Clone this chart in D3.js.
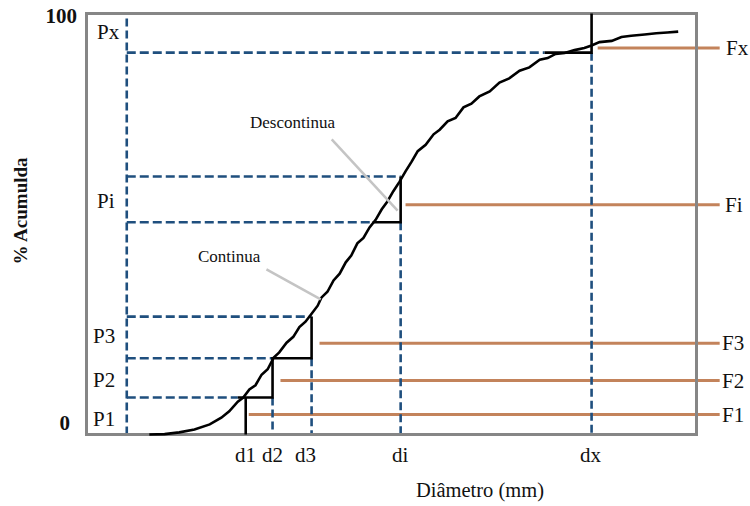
<!DOCTYPE html>
<html>
<head>
<meta charset="utf-8">
<script src="https://cdn.jsdelivr.net/npm/d3@7"></script>
<style>
  html, body { margin: 0; padding: 0; background: #fff; }
  svg { display: block; }
  text { font-family: "Liberation Serif", "Times New Roman", serif; fill: #111; }
</style>
</head>
<body>
<svg id="chart" width="750" height="506"></svg>
<script>
// Cumulative grain-size curve (diameter vs. cumulative %)
const curveDiam = [10.3, 12.8, 15.2, 17.7, 20.2, 22.1, 23.4, 24.8, 25.7, 26.7, 27.7, 28.7, 29.7, 30.7,
  31.6, 32.8, 33.9, 34.9, 35.9, 36.9, 37.9, 38.5, 39.5, 40.5, 41.5, 42.5, 43.4, 44.4, 45.4, 46.4,
  47.4, 48.4, 49.3, 50.3, 51.3, 52.3, 53.3, 54.3, 55.6, 56.9, 57.9, 59.2, 60.5, 61.8, 63.1, 64.4,
  66.1, 67.7, 69.3, 71.0, 72.6, 74.3, 75.6, 76.9, 78.4, 80.0, 81.6, 82.8, 84.1, 86.1, 87.7, 89.3,
  91.5, 93.4, 95.2, 97.0];
const curvePct = [0.0, 0.1, 0.5, 1.2, 2.4, 4.0, 5.5, 7.8, 8.8, 10.7, 11.7, 14.2, 15.5, 18.3,
  19.5, 21.8, 23.2, 25.5, 26.8, 28.7, 30.6, 32.5, 33.9, 36.6, 38.2, 40.9, 42.5, 45.4, 46.7, 49.2,
  51.0, 53.5, 55.3, 57.8, 60.0, 62.5, 64.8, 67.3, 68.8, 71.3, 72.4, 74.4, 75.2, 77.7, 78.6, 80.3,
  81.5, 83.6, 84.6, 86.4, 87.2, 89.0, 89.4, 90.4, 90.6, 91.3, 91.8, 92.4, 93.2, 93.5, 94.4, 94.7,
  95.0, 95.3, 95.5, 95.7];

// Class limits on the diameter axis and their cumulative percentages
const dLabels = ["d1", "d2", "d3", "di", "dx"];
const dValues = [26.1, 30.5, 36.9, 51.5, 82.8];
const pLabels = ["P1", "P2", "P3", "Pi", "Px"];
const pValues = [8.8, 18.1, 28.0, 61.3, 90.7];
const piLower = 50.4;
const refDiam = 6.6;

// Class frequencies
const fLabels = ["F1", "F2", "F3", "Fi", "Fx"];
const fValues = [4.75, 12.8, 21.7, 54.6, 91.8];
const fFrom = [26.6, 31.8, 38.2, 52.3, 83.8];
const fTo = 103.8;

// Where the curve meets each stair tread
const treadStart = [24.8, 46.9, 75.1];

// Annotation leaders: [diam, pct] pairs
const contLeader = [[29.5, 39.2], [38.4, 32.1]];
const descLeader = [[40.2, 70.1], [51.0, 53.2]];

const yTickLabels = ["0", "100"];

// ---- layout ----
const frame = { left: 86.5, right: 696.5, top: 13.5, bottom: 434.5 };
const svg = d3.select("#chart");
const x = d3.scaleLinear().domain([0, 100]).range([frame.left, frame.right]);
const y = d3.scaleLinear().domain([0, 100]).range([frame.bottom, frame.top]);

const blue = "#1f4f7e", orange = "#c3835b", gray = "#868686", leaderGray = "#c4c4c4";
const dash = "8,4";

const line = d3.line().x(d => x(d[0])).y(d => y(d[1]));
const seg = (pts, color, w, da) =>
  svg.append("path").attr("d", line(pts)).attr("fill", "none")
    .attr("stroke", color).attr("stroke-width", w)
    .attr("stroke-dasharray", da || null);

// frequency lines (orange)
fValues.forEach((v, i) => seg([[fFrom[i], v], [fTo, v]], orange, 3));

// vertical reference line
seg([[refDiam, 0], [refDiam, 100]], blue, 2.6, dash);

// horizontal dashed guides
const hGuides = [
  [pValues[0], treadStart[0]],
  [pValues[1], dValues[1]],
  [pValues[2], dValues[2]],
  [piLower, treadStart[1]],
  [pValues[3], dValues[3]],
  [pValues[4], treadStart[2]]
];
hGuides.forEach(([p, xe]) => seg([[refDiam, p], [xe, p]], blue, 2.6, "9,4"));

// vertical dashed guides
const vGuides = [[dValues[1], pValues[0]], [dValues[2], pValues[1]], [dValues[3], piLower], [dValues[4], pValues[4]]];
vGuides.forEach(([d, p]) => seg([[d, p], [d, 0]], blue, 2.6, dash));

// frame
svg.append("rect")
  .attr("x", frame.left).attr("y", frame.top)
  .attr("width", frame.right - frame.left).attr("height", frame.bottom - frame.top)
  .attr("fill", "none").attr("stroke", gray).attr("stroke-width", 3);

// stair steps (discontinuous curve)
seg([[dValues[0], 0], [dValues[0], pValues[0]]], "#000", 2.6);
seg([[treadStart[0], pValues[0]], [dValues[1], pValues[0]], [dValues[1], pValues[1]],
     [dValues[2], pValues[1]], [dValues[2], pValues[2]]], "#000", 2.6);
seg([[treadStart[1], piLower], [dValues[3], piLower], [dValues[3], pValues[3]]], "#000", 2.6);
seg([[treadStart[2], pValues[4]], [dValues[4], pValues[4]], [dValues[4], 100]], "#000", 2.6);

// continuous curve
const curve = curveDiam.map((d, i) => [d, curvePct[i]]);
seg(curve, "#000", 2.6);

// annotation leaders
seg(contLeader, leaderGray, 2.5);
seg(descLeader, leaderGray, 2.5);

svg.append("text").attr("x", 198).attr("y", 262).attr("font-size", 17).text("Continua");
svg.append("text").attr("x", 250).attr("y", 128).attr("font-size", 17).text("Descontinua");

// y extremes
svg.append("text").attr("x", 77).attr("y", 23).attr("text-anchor", "end")
  .attr("font-size", 21).attr("font-weight", "bold").text(yTickLabels[1]);
svg.append("text").attr("x", 70).attr("y", 430).attr("text-anchor", "end")
  .attr("font-size", 21).attr("font-weight", "bold").text(yTickLabels[0]);

// P labels inside the left band
const pLabelY = [3.8, 13.1, 23.5, 55.6, 95.6];
const pLabelX = [93, 93, 93, 97, 97];
pLabels.forEach((t, i) =>
  svg.append("text").attr("x", pLabelX[i]).attr("y", y(pLabelY[i]))
    .attr("dy", "0.35em").attr("font-size", 21).text(t));

// d labels under the axis
const dLabelX = [235, 262, 295, 392, 580];
dLabels.forEach((t, i) =>
  svg.append("text").attr("x", dLabelX[i]).attr("y", 462).attr("font-size", 21).text(t));

// F labels at the right
const fLabelX = [722, 722, 722, 725, 726];
fLabels.forEach((t, i) =>
  svg.append("text").attr("x", fLabelX[i]).attr("y", y(fValues[i]))
    .attr("dy", "0.35em").attr("font-size", 21).text(t));

// axis titles
svg.append("text").attr("x", 480).attr("y", 497).attr("text-anchor", "middle")
  .attr("font-size", 20.5).text("Diâmetro (mm)");
svg.append("text").attr("transform", "translate(27,211) rotate(-90)")
  .attr("text-anchor", "middle").attr("font-size", 19).attr("font-weight", "bold")
  .text("% Acumulda");
</script>
</body>
</html>
